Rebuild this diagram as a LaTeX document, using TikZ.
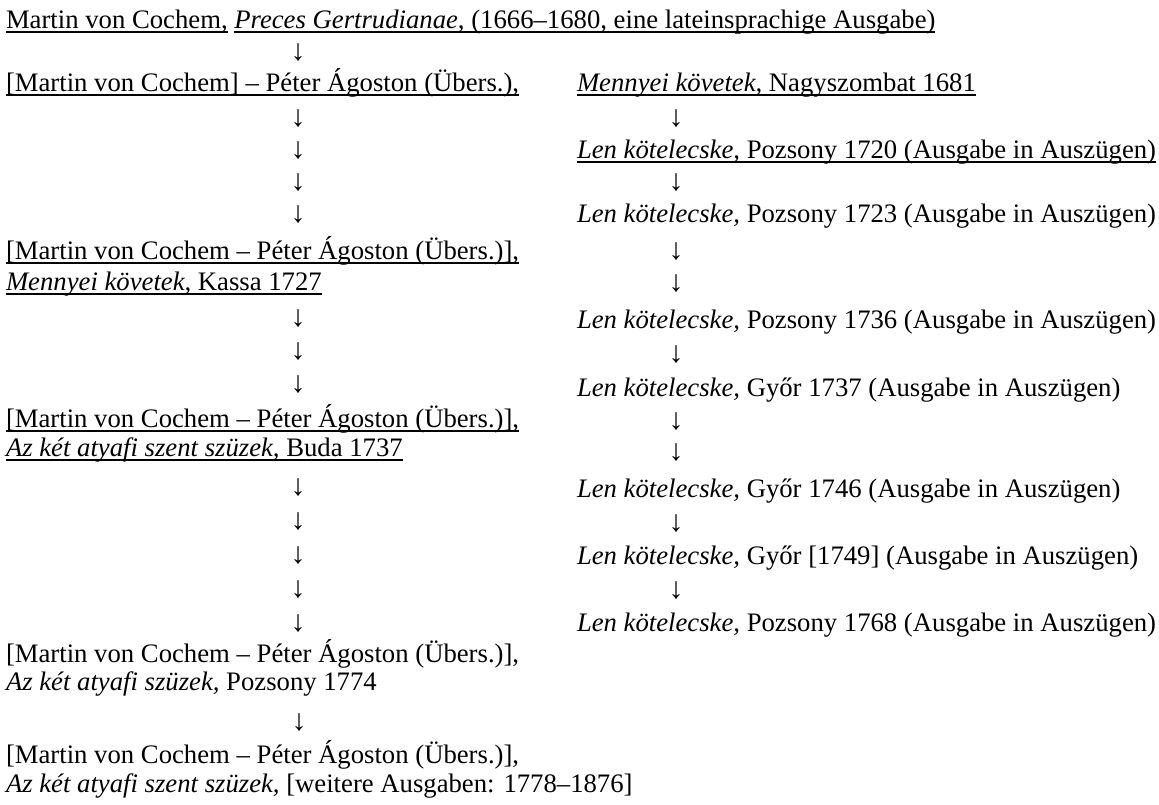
\documentclass[tikz,border=0pt]{standalone}
\usepackage{fontspec}
\setmainfont{Liberation Serif}
\newcommand\ulnode[1]{\draw[ul] ([yshift=-3.8pt]#1.base west) -- ([yshift=-3.8pt]#1.base east);}
\begin{document}
\begin{tikzpicture}[x=1pt,y=-1pt,
  every node/.style={inner sep=0pt, outer sep=0pt, font=\fontsize{26.7}{32}\selectfont},
  txt/.style={anchor=base west},
  arr/.style={anchor=base, font=\fontsize{30}{34}\selectfont},
  ul/.style={line width=1.7pt}]
\useasboundingbox (0,0) rectangle (1159,804);
\def\LX{6}
\def\RX{577}
\def\LA{298}
\def\RA{676}
% ---- left column
\node[txt] (l0a) at (\LX,28) {Martin von Cochem,};
\node[txt] (l0b) at ([xshift=6.6pt]l0a.base east) {\textit{Preces Gertrudianae,} (1666–1680, eine lateinsprachige Ausgabe)};
\ulnode{l0a}\ulnode{l0b}
\node[arr] (la1) at (\LA,60) {↓};
\node[txt] (l2) at (\LX,91) {[Martin von Cochem] – Péter Ágoston (Übers.),};
\ulnode{l2}
\node[arr] (la3) at (\LA,126) {↓};
\node[arr] (la4) at (\LA,158) {↓};
\node[arr] (la5) at (\LA,190) {↓};
\node[arr] (la6) at (\LA,222) {↓};
\node[txt] (l7) at (\LX,259) {[Martin von Cochem – Péter Ágoston (Übers.)],};
\node[txt] (l8) at (\LX,290) {\textit{Mennyei követek,} Kassa 1727};
\ulnode{l7}\ulnode{l8}
\node[arr] (la9) at (\LA,326) {↓};
\node[arr] (la10) at (\LA,359) {↓};
\node[arr] (la11) at (\LA,392) {↓};
\node[txt] (l12) at (\LX,427) {[Martin von Cochem – Péter Ágoston (Übers.)],};
\node[txt] (l13) at (\LX,456) {\textit{Az két atyafi szent szüzek,} Buda 1737};
\ulnode{l12}\ulnode{l13}
\node[arr] (la14) at (\LA,495) {↓};
\node[arr] (la15) at (\LA,529) {↓};
\node[arr] (la16) at (\LA,563) {↓};
\node[arr] (la17) at (\LA,597) {↓};
\node[arr] (la18) at (\LA,631) {↓};
\node[txt] (l19) at (\LX,662) {[Martin von Cochem – Péter Ágoston (Übers.)],};
\node[txt] (l20) at (\LX,690) {\textit{Az két atyafi szüzek,} Pozsony 1774};
\node[arr] (la21) at (299,730) {↓};
\node[txt] (l22) at (\LX,763) {[Martin von Cochem – Péter Ágoston (Übers.)],};
\node[txt] (l23) at (\LX,792) {\textit{Az két atyafi szent szüzek,} [weitere Ausgaben: 1778–1876]};
% ---- right column
\node[txt] (r2) at (\RX,91) {\textit{Mennyei követek,} Nagyszombat 1681};
\ulnode{r2}
\node[arr] (ra3) at (\RA,126) {↓};
\node[txt] (r4) at (\RX,158) {\textit{Len kötelecske,} Pozsony 1720 (Ausgabe in Auszügen)};
\ulnode{r4}
\node[arr] (ra5) at (\RA,190) {↓};
\node[txt] (r6) at (\RX,222) {\textit{Len kötelecske,} Pozsony 1723 (Ausgabe in Auszügen)};
\node[arr] (ra7) at (\RA,259) {↓};
\node[arr] (ra8) at (\RA,291) {↓};
\node[txt] (r9) at (\RX,328) {\textit{Len kötelecske,} Pozsony 1736 (Ausgabe in Auszügen)};
\node[arr] (ra10) at (\RA,362) {↓};
\node[txt] (r11) at (\RX,396) {\textit{Len kötelecske,} Győr 1737 (Ausgabe in Auszügen)};
\node[arr] (ra12) at (\RA,429) {↓};
\node[arr] (ra13) at (\RA,460) {↓};
\node[txt] (r14) at (\RX,497) {\textit{Len kötelecske,} Győr 1746 (Ausgabe in Auszügen)};
\node[arr] (ra15) at (\RA,531) {↓};
\node[txt] (r16) at (\RX,564) {\textit{Len kötelecske,} Győr [1749] (Ausgabe in Auszügen)};
\node[arr] (ra17) at (\RA,598) {↓};
\node[txt] (r18) at (\RX,631) {\textit{Len kötelecske,} Pozsony 1768 (Ausgabe in Auszügen)};
\end{tikzpicture}
\end{document}
